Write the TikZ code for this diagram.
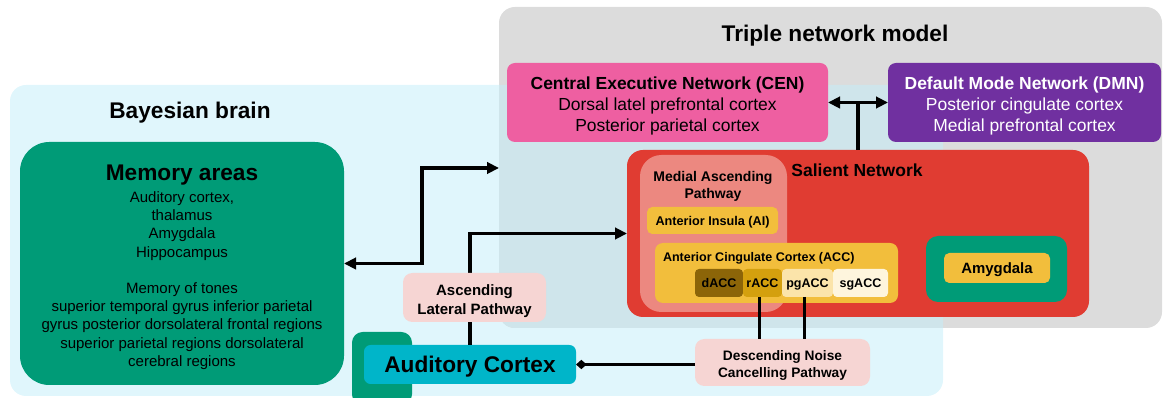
\documentclass[tikz,border=0pt]{standalone}
\usepackage{fontspec}
\setmainfont{Liberation Sans}
\usetikzlibrary{arrows.meta}

\definecolor{bayesbg}{HTML}{E0F6FC}
\definecolor{triplebg}{HTML}{DCDCDC}
\definecolor{overlapbg}{HTML}{CFE5EB}
\definecolor{cenpink}{HTML}{EE5FA1}
\definecolor{dmnpurple}{HTML}{7030A0}
\definecolor{salred}{HTML}{E03C32}
\definecolor{medialred}{HTML}{EC8880}
\definecolor{accyellow}{HTML}{F2BE3C}
\definecolor{daccbrown}{HTML}{8C6508}
\definecolor{raccgold}{HTML}{D4A00E}
\definecolor{pgacccream}{HTML}{FBE4AA}
\definecolor{sgacccream}{HTML}{FEF5DD}
\definecolor{memgreen}{HTML}{009B77}
\definecolor{audcyan}{HTML}{00B5C9}
\definecolor{pathpink}{HTML}{F6D5D3}

\newcommand\fs[2]{\fontsize{#1}{#2}\selectfont}

\begin{document}
\begin{tikzpicture}[x=0.75pt,y=-0.75pt,
  every node/.style={inner sep=0pt, outer sep=0pt},
  % box size given in picture units (w, h)
  sz/.style 2 args={minimum width={#1*0.75pt}, minimum height={#2*0.75pt}},
  conn/.style={line width=2.4pt},
  tipR/.style={-{Triangle[length=9pt,width=8.5pt]}},
  tipLR/.style={{Triangle[length=9pt,width=8.5pt]}-{Triangle[length=9pt,width=8.5pt]}},
  diamondtip/.style={-{Diamond[length=8pt,width=7pt]}},
  oneline/.style={text depth=0pt},
  ttl/.style={oneline, font=\fs{17}{19}\bfseries},
  subacc/.style={rounded corners=3pt, oneline, font=\fs{9.4}{11}\bfseries},
  pathbox/.style={fill=pathpink, rounded corners=7pt},
]
\useasboundingbox (0,0) rectangle (1163,398);

% container areas
\node[sz={933}{311}, fill=bayesbg, rounded corners=12pt] (bayes) at (476.5,240.5) {};
\node[sz={663}{321}, fill=triplebg, rounded corners=12pt] (triple) at (830.5,167.5) {};
\begin{scope}
  \clip[rounded corners=12pt] (bayes.north west) rectangle (bayes.south east);
  \fill[overlapbg, rounded corners=12pt] (triple.north west) rectangle (triple.south east);
\end{scope}
\node[ttl] (bayesTitle) at (190,110.5) {Bayesian brain};
\node[ttl] (tripleTitle) at (835,33) {Triple network model};

% CEN and DMN
\node[sz={321}{79}, fill=cenpink, rounded corners=6pt] (cen) at (667.5,102.5) {};
\node[align=center, font=\fs{13.1}{16.1}] (cenText) at (667.5,106)
  {\textbf{Central Executive Network (CEN)}\\Dorsal latel prefrontal cortex\\Posterior parietal cortex};
\node[sz={273}{79}, fill=dmnpurple, rounded corners=6pt] (dmn) at (1024.5,102.5) {};
\node[align=center, text=white, font=\fs{13.1}{16.1}] (dmnText) at (1024.5,106)
  {\textbf{Default Mode Network (DMN)}\\Posterior cingulate cortex\\Medial prefrontal cortex};

% salient network
\node[sz={462}{167}, fill=salred, rounded corners=12pt] (sal) at (858,233.5) {};
\node[font=\fs{13.1}{16}\bfseries] (salTitle) at (857,170) {Salient Network};
\node[sz={147}{157}, fill=medialred, rounded corners=16pt] (medial) at (713.5,233.5) {};
\node[font=\fs{10.5}{12.75}\bfseries, align=center] (medialTitle) at (713,186.5) {Medial Ascending\\Pathway};
\node[sz={131}{27}, fill=accyellow, rounded corners=4pt, oneline,
      font=\fs{9.5}{11}\bfseries] (ai) at (712.5,220.5) {Anterior Insula (AI)};
\node[sz={243}{60}, fill=accyellow, rounded corners=6pt] (acc) at (776.5,273) {};
\node[font=\fs{9.4}{11}\bfseries, anchor=west] (accTitle) at (663,258) {Anterior Cingulate Cortex (ACC)};
\node[sz={48}{28}, fill=daccbrown, subacc] (dacc) at (719,283) {dACC};
\node[sz={39}{28}, fill=raccgold, subacc] (racc) at (762.5,283) {rACC};
\node[sz={51}{28}, fill=pgacccream, subacc] (pgacc) at (807.5,283) {pgACC};
\node[sz={55}{28}, fill=sgacccream, subacc] (sgacc) at (860.5,283) {sgACC};
\node[sz={141}{66}, fill=memgreen, rounded corners=9pt] (amyOuter) at (996.5,269) {};
\node[sz={106}{30}, fill=accyellow, rounded corners=4pt, oneline,
      font=\fs{11.2}{13}\bfseries] (amy) at (997,268) {Amygdala};

% memory areas
\node[sz={324}{243}, fill=memgreen, rounded corners=22pt] (mem) at (182,263.5) {};
\node[ttl] (memTitle) at (182,173) {Memory areas};
\node[font=\fs{11.25}{13.65}, align=center] (memText) at (182,280.5)
  {Auditory cortex,\\thalamus\\Amygdala\\Hippocampus\\[13.65pt]Memory of tones\\superior temporal gyrus inferior parietal\\gyrus posterior dorsolateral frontal regions\\superior parietal regions dorsolateral\\cerebral regions};

% auditory cortex
\node[sz={60}{73}, fill=memgreen, rounded corners=8pt] (audBack) at (382,368.5) {};
\node[sz={212}{39}, fill=audcyan, rounded corners=5pt, oneline,
      font=\fs{17}{19}\bfseries] (aud) at (470,364.5) {Auditory Cortex};

% descending pathway
\node[sz={175}{47}, pathbox] (desc) at (782.5,362.5) {};
\node[align=center, font=\fs{10.3}{12.75}\bfseries] (descText) at (782.5,365.5)
  {Descending Noise\\Cancelling Pathway};

% connectors
\coordinate (tripleIn) at (499,168);
\draw[conn, tipLR] (mem.east) -- ++(78,0) |- (tripleIn);
\draw[conn, tipR] (aud.north) |- (sal.west);
\draw[conn, tipLR] (cen.east) -- (dmn.west);
\draw[conn] (sal.north) -- (sal.north |- cen.east);
\draw[conn] ([xshift=-2]racc.south) -- ([xshift=-2]racc.south |- desc.north);
\draw[conn] ([xshift=-2]pgacc.south) -- ([xshift=-2]pgacc.south |- desc.north);
\draw[conn, diamondtip] (desc.west |- aud.east) -- (aud.east);

% ascending lateral pathway, over its connector
\node[sz={143}{49}, pathbox] (asc) at (474.5,297.5) {};
\node[align=center, font=\fs{11.25}{14.25}\bfseries] (ascText) at (474.5,301.5)
  {Ascending\\Lateral Pathway};
\end{tikzpicture}
\end{document}
